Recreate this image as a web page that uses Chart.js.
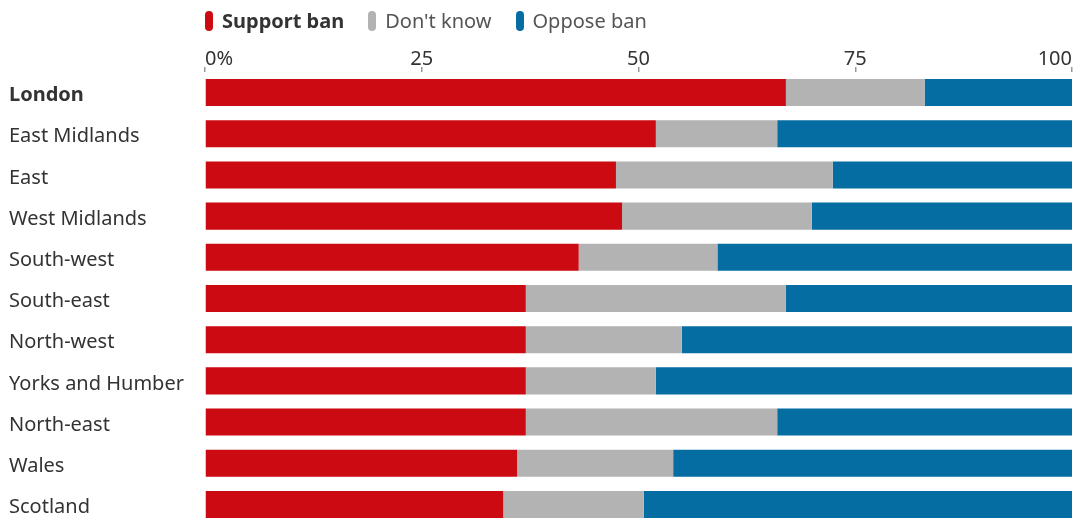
<!DOCTYPE html>
<html>
<head>
<meta charset="utf-8">
<script src="https://cdn.jsdelivr.net/npm/chart.js@4"></script>
<style>
  html, body { margin: 0; padding: 0; background: #fff; overflow: hidden; }
  #wrap { position: relative; width: 1073px; height: 537px; }
  #legend { position: absolute; top: 7px; left: 205px; font-family: "Noto Sans", sans-serif; font-size: 20px; color: #333; display: flex; align-items: center; }
  .item { display: flex; align-items: center; margin-right: 24px; }
  .swatch { width: 8px; height: 20px; border-radius: 4px; margin-right: 9px; }
</style>
</head>
<body>
<div id="wrap">
  <div id="legend"></div>
  <canvas id="chart" width="1073" height="537"></canvas>
</div>
<script>
// regions, top to bottom
const regions = ['London', 'East Midlands', 'East', 'West Midlands', 'South-west', 'South-east',
  'North-west', 'Yorks and Humber', 'North-east', 'Wales', 'Scotland'];

// shares in %
const supportBan = [67, 52, 47.4, 48.1, 43.1, 37, 37, 37, 37, 36, 34.4];
const dontKnow = [16, 14, 25, 21.9, 16, 30, 18, 15, 29, 18, 16.2];
const opposeBan = [17, 34, 27.6, 30, 40.9, 33, 45, 48, 34, 46, 49.4];

const xTicks = [0, 25, 50, 75, 100];

const colours = ['#cc0a11', '#b3b3b3', '#056da1'];
const seriesNames = ['Support ban', "Don't know", 'Oppose ban'];

// legend (first entry bold)
const legend = document.getElementById('legend');
seriesNames.forEach(function(name, i) {
  const el = document.createElement('div');
  el.className = 'item';
  el.innerHTML = '<span class="swatch" style="background:' + colours[i] + '"></span>' +
    '<span style="' + (i === 0 ? 'font-weight:bold;' : 'color:#555;') + '">' + name + '</span>';
  legend.appendChild(el);
});

const font = '"Noto Sans", sans-serif';

new Chart(document.getElementById('chart'), {
  type: 'bar',
  data: {
    labels: regions,
    datasets: [
      { label: seriesNames[0], data: supportBan, backgroundColor: colours[0] },
      { label: seriesNames[1], data: dontKnow, backgroundColor: colours[1] },
      { label: seriesNames[2], data: opposeBan, backgroundColor: colours[2] }
    ]
  },
  options: {
    indexAxis: 'y',
    responsive: false,
    animation: false,
    layout: { padding: { left: 9, right: 1, top: 0, bottom: 0 } },
    datasets: { bar: { barPercentage: 0.657, categoryPercentage: 1 } },
    plugins: { legend: { display: false }, tooltip: { enabled: false } },
    scales: {
      x: {
        position: 'top',
        stacked: true,
        min: 0,
        max: 100,
        z: 1,
        afterBuildTicks: function(scale) {
          scale.ticks = xTicks.map(function(v) { return { value: v }; });
        },
        afterFit: function(scale) { scale.height = 72; },
        border: { display: false },
        grid: {
          color: 'rgba(255,255,255,0.6)',
          tickColor: '#999',
          tickLength: 5,
          lineWidth: 1.5
        },
        ticks: {
          align: 'inner',
          padding: -4,
          color: '#333',
          font: { family: font, size: 20 },
          callback: function(v) { return v === 0 ? '0%' : v; }
        }
      },
      y: {
        stacked: true,
        afterFit: function(scale) { scale.width = 196; },
        border: { display: false },
        grid: { display: false },
        ticks: {
          crossAlign: 'far',
          padding: 0,
          labelOffset: 3,
          color: '#333',
          font: function(ctx) {
            return { family: font, size: 20, weight: ctx.index === 0 ? 'bold' : 'normal' };
          }
        }
      }
    }
  }
});
</script>
</body>
</html>
